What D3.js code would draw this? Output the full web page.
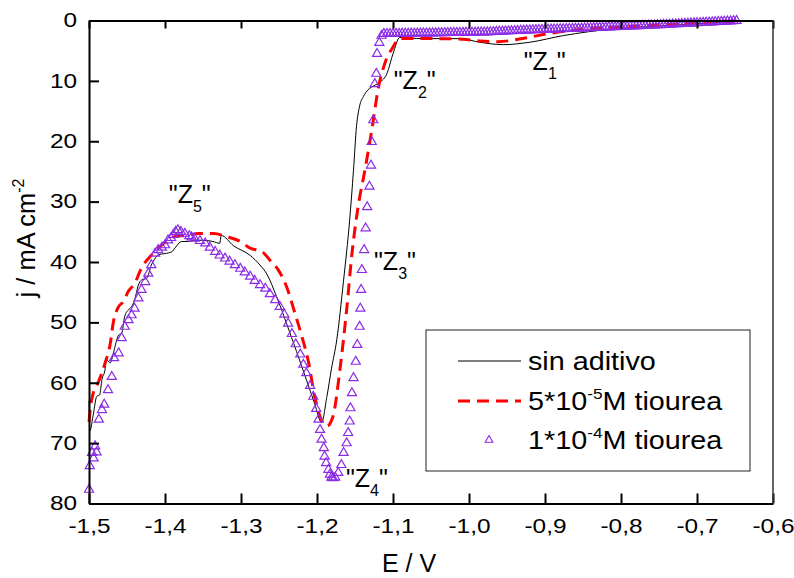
<!DOCTYPE html>
<html>
<head>
<meta charset="utf-8">
<script src="https://cdn.jsdelivr.net/npm/d3@7"></script>
<style>
  html, body { margin: 0; padding: 0; background: #fff; }
  svg { display: block; font-family: Arial, "Liberation Sans", sans-serif; }
</style>
</head>
<body>
<svg id="chart" width="794" height="578"></svg>
<script>
// Voltammetry curves: current density j (mA cm^-2) against potential E (V)

// Curve without additive
const sinAditivo = [
  [-1.500, 63.0], [-1.499, 68.0], [-1.494, 65.0], [-1.490, 62.3], [-1.486, 62.0],
  [-1.483, 59.5], [-1.479, 57.9], [-1.477, 56.2], [-1.472, 56.7], [-1.468, 55.1],
  [-1.461, 52.1], [-1.457, 51.8], [-1.453, 49.0], [-1.448, 47.9], [-1.444, 47.4],
  [-1.440, 46.3], [-1.435, 43.8], [-1.431, 43.0], [-1.424, 42.7], [-1.418, 40.5],
  [-1.413, 39.4], [-1.409, 38.8], [-1.400, 38.6], [-1.391, 38.3], [-1.387, 37.7],
  [-1.378, 36.6], [-1.369, 36.6], [-1.361, 36.4], [-1.350, 36.4], [-1.337, 36.6],
  [-1.328, 36.9], [-1.326, 35.6], [-1.310, 37.3], [-1.288, 38.9], [-1.275, 40.5],
  [-1.266, 42.0], [-1.253, 45.8], [-1.240, 50.2], [-1.227, 54.8], [-1.214, 59.5],
  [-1.203, 63.5], [-1.194, 66.6], [-1.187, 62.3], [-1.181, 57.7], [-1.174, 52.9],
  [-1.165, 43.0], [-1.157, 33.0], [-1.152, 24.8], [-1.148, 17.5], [-1.144, 14.2],
  [-1.139, 12.6], [-1.133, 11.5], [-1.125, 10.8], [-1.117, 10.2], [-1.108, 8.8],
  [-1.100, 5.5], [-1.091, 2.8], [-1.087, 2.9], [-1.051, 3.0], [-1.012, 3.0],
  [-0.986, 3.6], [-0.955, 4.0], [-0.920, 3.6], [-0.876, 2.5], [-0.811, 1.4],
  [-0.749, 0.9], [-0.700, 0.55], [-0.647, 0.1]
];

// 5*10^-5 M thiourea
const tiourea5e5 = [
  [-1.500, 66.5], [-1.498, 64.0], [-1.495, 62.0], [-1.488, 60.0], [-1.479, 56.8],
  [-1.472, 53.5], [-1.468, 50.0], [-1.461, 47.4], [-1.455, 46.6], [-1.448, 44.8],
  [-1.440, 43.6], [-1.431, 41.0], [-1.418, 38.9], [-1.407, 37.5], [-1.387, 35.8],
  [-1.371, 35.6], [-1.356, 35.3], [-1.336, 35.3], [-1.319, 35.8], [-1.301, 36.6],
  [-1.288, 37.7], [-1.272, 38.3], [-1.262, 39.7], [-1.251, 41.3], [-1.240, 44.1],
  [-1.229, 48.5], [-1.220, 52.3], [-1.211, 56.7], [-1.203, 62.3], [-1.196, 65.6],
  [-1.187, 67.2], [-1.179, 65.6], [-1.170, 58.0], [-1.161, 47.9], [-1.154, 38.6],
  [-1.146, 30.9], [-1.137, 24.8], [-1.128, 18.2], [-1.119, 11.0], [-1.111, 7.2],
  [-1.100, 4.4], [-1.091, 3.0], [-1.051, 3.0], [-1.008, 3.1], [-0.986, 3.4],
  [-0.962, 3.5], [-0.926, 2.9], [-0.897, 2.2], [-0.854, 1.5], [-0.801, 1.1],
  [-0.749, 0.7], [-0.696, 0.4], [-0.647, 0.05]
];

// 1*10^-4 M thiourea (sampled points, drawn as markers)
const tiourea1e4 = [
  [-1.500, 77.7], [-1.499, 73.8], [-1.496, 71.6], [-1.494, 72.5], [-1.492, 70.5],
  [-1.490, 71.5], [-1.487, 66.1], [-1.483, 64.5], [-1.480, 63.6], [-1.475, 61.2],
  [-1.470, 59.0], [-1.467, 55.9], [-1.461, 55.1], [-1.457, 52.6], [-1.453, 50.7],
  [-1.448, 49.6], [-1.444, 48.8], [-1.440, 47.7], [-1.435, 46.0], [-1.431, 44.6],
  [-1.426, 43.3], [-1.422, 41.9], [-1.418, 40.5], [-1.413, 38.6], [-1.409, 38.0],
  [-1.404, 37.6], [-1.400, 37.2], [-1.396, 36.4], [-1.392, 36.0], [-1.389, 35.5],
  [-1.386, 35.0], [-1.383, 34.7], [-1.379, 35.0], [-1.374, 35.3], [-1.368, 35.7],
  [-1.365, 35.9], [-1.361, 36.1], [-1.354, 36.5], [-1.347, 36.9], [-1.341, 37.6],
  [-1.334, 38.3], [-1.328, 38.9], [-1.321, 39.4], [-1.315, 39.9], [-1.308, 40.5],
  [-1.301, 41.1], [-1.295, 41.7], [-1.288, 42.4], [-1.282, 43.1], [-1.275, 43.8],
  [-1.268, 44.4], [-1.262, 45.3], [-1.255, 46.3], [-1.249, 47.4], [-1.243, 48.7],
  [-1.238, 50.2], [-1.233, 51.9], [-1.228, 53.6], [-1.222, 55.3], [-1.218, 57.0],
  [-1.214, 58.4], [-1.209, 60.5], [-1.205, 62.3], [-1.201, 64.3], [-1.198, 66.1],
  [-1.196, 67.8], [-1.194, 69.4], [-1.191, 70.8], [-1.190, 72.2], [-1.188, 73.3],
  [-1.185, 74.4], [-1.183, 75.2], [-1.181, 75.7], [-1.179, 75.8], [-1.176, 75.7],
  [-1.172, 74.9], [-1.168, 73.6], [-1.165, 71.6], [-1.161, 70.0], [-1.159, 68.3],
  [-1.157, 66.4], [-1.156, 64.2], [-1.154, 61.7], [-1.152, 59.2], [-1.149, 56.5],
  [-1.147, 53.7], [-1.144, 50.7], [-1.143, 47.7], [-1.142, 44.6], [-1.141, 41.3],
  [-1.138, 38.0], [-1.136, 34.4], [-1.134, 30.9], [-1.131, 27.5], [-1.129, 24.0],
  [-1.128, 20.1], [-1.126, 16.5], [-1.124, 10.5], [-1.122, 8.8], [-1.121, 5.5],
  [-1.118, 3.7], [-1.115, 2.5],
  [-1.112, 2.20], [-1.108, 2.20], [-1.104, 2.19], [-1.100, 2.18], [-1.096, 2.17],
  [-1.092, 2.17], [-1.088, 2.16], [-1.084, 2.15], [-1.080, 2.15], [-1.076, 2.14],
  [-1.072, 2.14], [-1.068, 2.13], [-1.064, 2.12], [-1.060, 2.12], [-1.056, 2.11],
  [-1.052, 2.10], [-1.048, 2.10], [-1.044, 2.09], [-1.040, 2.08], [-1.036, 2.07],
  [-1.032, 2.06], [-1.028, 2.05], [-1.024, 2.04], [-1.020, 2.03], [-1.016, 2.03],
  [-1.012, 2.02], [-1.008, 2.01], [-1.004, 2.00], [-1.000, 1.99], [-0.996, 1.98],
  [-0.992, 1.97], [-0.988, 1.96], [-0.984, 1.96], [-0.980, 1.95], [-0.976, 1.93],
  [-0.972, 1.90], [-0.968, 1.88], [-0.964, 1.86], [-0.960, 1.83], [-0.956, 1.81],
  [-0.952, 1.79], [-0.948, 1.76], [-0.944, 1.74], [-0.940, 1.72], [-0.936, 1.69],
  [-0.932, 1.67], [-0.928, 1.65], [-0.924, 1.62], [-0.920, 1.60], [-0.916, 1.58],
  [-0.912, 1.56], [-0.908, 1.54], [-0.904, 1.53], [-0.900, 1.51], [-0.896, 1.49],
  [-0.892, 1.47], [-0.888, 1.46], [-0.884, 1.44], [-0.880, 1.42], [-0.876, 1.40],
  [-0.872, 1.39], [-0.868, 1.37], [-0.864, 1.35], [-0.860, 1.33], [-0.856, 1.32],
  [-0.852, 1.30], [-0.848, 1.28], [-0.844, 1.26], [-0.840, 1.24], [-0.836, 1.22],
  [-0.832, 1.21], [-0.828, 1.19], [-0.824, 1.17], [-0.820, 1.14], [-0.816, 1.12],
  [-0.812, 1.10], [-0.808, 1.08], [-0.804, 1.05], [-0.800, 1.03], [-0.796, 1.01],
  [-0.792, 0.99], [-0.788, 0.96], [-0.784, 0.94], [-0.780, 0.92], [-0.776, 0.90],
  [-0.772, 0.87], [-0.768, 0.85], [-0.764, 0.83], [-0.760, 0.81], [-0.756, 0.78],
  [-0.752, 0.76], [-0.748, 0.73], [-0.744, 0.71], [-0.740, 0.68], [-0.736, 0.66],
  [-0.732, 0.63], [-0.728, 0.60], [-0.724, 0.57], [-0.720, 0.55], [-0.716, 0.52],
  [-0.712, 0.50], [-0.708, 0.47], [-0.704, 0.44], [-0.700, 0.41], [-0.696, 0.39],
  [-0.692, 0.36], [-0.688, 0.34], [-0.684, 0.31], [-0.680, 0.28], [-0.676, 0.25],
  [-0.672, 0.22], [-0.668, 0.19], [-0.664, 0.16], [-0.660, 0.13], [-0.656, 0.11],
  [-0.652, 0.08], [-0.648, 0.05]
];

// Axis ticks
const xTicks = [-1.5, -1.4, -1.3, -1.2, -1.1, -1.0, -0.9, -0.8, -0.7, -0.6];
const yTicks = [0, 10, 20, 30, 40, 50, 60, 70, 80];

// Peak labels "Z_n" anchored in data units (E, j)
const peakIds = ["1", "2", "3", "4", "5"];
const peakE = [-0.928, -1.099, -1.125, -1.162, -1.395];
const peakJ = [8.2, 11.4, 41.3, 77.3, 30.2];

const svg = d3.select("#chart");
svg.append("rect").attr("width", 794).attr("height", 578).attr("fill", "#fff");

const x = d3.scaleLinear().domain([-1.5, -0.6]).range([89, 773]);
const y = d3.scaleLinear().domain([0, 80]).range([20.5, 503.5]);

const commaFmt = v => d3.format(".1f")(v).replace(".", ",").replace("\u2212", "-");

// ---- data ----
const line = d3.line().x(d => x(d[0])).y(d => y(d[1])).curve(d3.curveMonotoneX);

svg.append("path").datum(sinAditivo)
  .attr("d", line).attr("fill", "none")
  .attr("stroke", "#000").attr("stroke-width", 1);

svg.append("path").datum(tiourea5e5)
  .attr("d", line).attr("fill", "none")
  .attr("stroke", "#ff0000").attr("stroke-width", 3)
  .attr("stroke-dasharray", "12,7");

const tri = d3.symbol().type(d3.symbolTriangle).size(36);
const purple = "#8a2be6";
svg.append("g").selectAll("path").data(tiourea1e4).join("path")
  .attr("transform", d => `translate(${x(d[0])},${y(d[1])})`)
  .attr("d", tri)
  .attr("fill", "none").attr("stroke", purple).attr("stroke-width", 1.2);

// ---- axes ----
const tickFont = 19.5, stretch = 1.25;

const gx = svg.append("g").attr("transform", `translate(0,${y(80)})`)
  .call(d3.axisBottom(x).tickValues(xTicks).tickFormat(commaFmt)
    .tickSizeInner(-10).tickSizeOuter(0).tickPadding(16));
gx.selectAll(".tick text").attr("transform", `scale(${stretch},1)`)
  .style("font-size", tickFont + "px").attr("fill", "#000");

const gy = svg.append("g").attr("transform", `translate(${x(-1.5)},0)`)
  .call(d3.axisLeft(y).tickValues(yTicks).tickFormat(d3.format("d"))
    .tickSizeInner(-10).tickSizeOuter(0).tickPadding(12));
gy.selectAll(".tick text").attr("x", -12 / stretch)
  .attr("transform", `scale(${stretch},1)`)
  .style("font-size", tickFont + "px").attr("fill", "#000");

const gt = svg.append("g").attr("transform", `translate(0,${y(0)})`)
  .call(d3.axisTop(x).tickValues(xTicks).tickFormat("")
    .tickSizeInner(-8).tickSizeOuter(0));

svg.append("line")
  .attr("x1", x(-0.6)).attr("x2", x(-0.6))
  .attr("y1", y(0)).attr("y2", y(80))
  .attr("stroke", "#333").attr("stroke-width", 1.5);

[gx, gy, gt].forEach(g => {
  g.select(".domain").attr("stroke", "#000").attr("stroke-width", 2);
  g.selectAll(".tick line").attr("stroke", "#000").attr("stroke-width", 2);
});

// axis titles
svg.append("text").attr("x", 409).attr("y", 572)
  .attr("text-anchor", "middle").style("font-size", "25px").text("E / V");

const yt = svg.append("text")
  .attr("transform", "translate(35,238) rotate(-90)")
  .attr("text-anchor", "middle").style("font-size", "25.5px");
yt.append("tspan").text("j / mA cm");
yt.append("tspan").attr("dy", -11).style("font-size", "16px").text("-2");

// ---- peak labels ----
peakIds.forEach((id, i) => {
  const t = svg.append("text")
    .attr("x", x(peakE[i])).attr("y", y(peakJ[i]))
    .style("font-size", "25px");
  t.append("tspan").text("\"Z");
  t.append("tspan").attr("dy", 9).style("font-size", "16px").text(id);
  t.append("tspan").attr("dy", -9).text("\"");
});

// ---- legend ----
const lg = svg.append("g");
lg.append("rect").attr("x", 426).attr("y", 330).attr("width", 324).attr("height", 141)
  .attr("fill", "#fff").attr("stroke", "#222").attr("stroke-width", 1);

const rows = [361, 401, 440];
lg.append("line").attr("x1", 458).attr("x2", 521).attr("y1", rows[0]).attr("y2", rows[0])
  .attr("stroke", "#000").attr("stroke-width", 1);
lg.append("line").attr("x1", 458).attr("x2", 521).attr("y1", rows[1]).attr("y2", rows[1])
  .attr("stroke", "#ff0000").attr("stroke-width", 3).attr("stroke-dasharray", "12,7");
lg.append("path").attr("transform", `translate(489,${rows[2]})`)
  .attr("d", d3.symbol().type(d3.symbolTriangle).size(26))
  .attr("fill", "none").attr("stroke", purple).attr("stroke-width", 1.1);

const legendText = [
  [["sin aditivo", 0]],
  [["5*10", 0], ["-5", 1], ["M tiourea", 0]],
  [["1*10", 0], ["-4", 1], ["M tiourea", 0]]
];
legendText.forEach((parts, i) => {
  const t = lg.append("text")
    .attr("transform", `translate(528,${rows[i] + 9}) scale(1.15,1)`)
    .style("font-size", "25px");
  let up = false;
  parts.forEach(([s, sup]) => {
    const ts = t.append("tspan").text(s);
    if (sup) { ts.attr("dy", -11).style("font-size", "15px"); up = true; }
    else if (up) { ts.attr("dy", 11); up = false; }
  });
});
</script>
</body>
</html>
